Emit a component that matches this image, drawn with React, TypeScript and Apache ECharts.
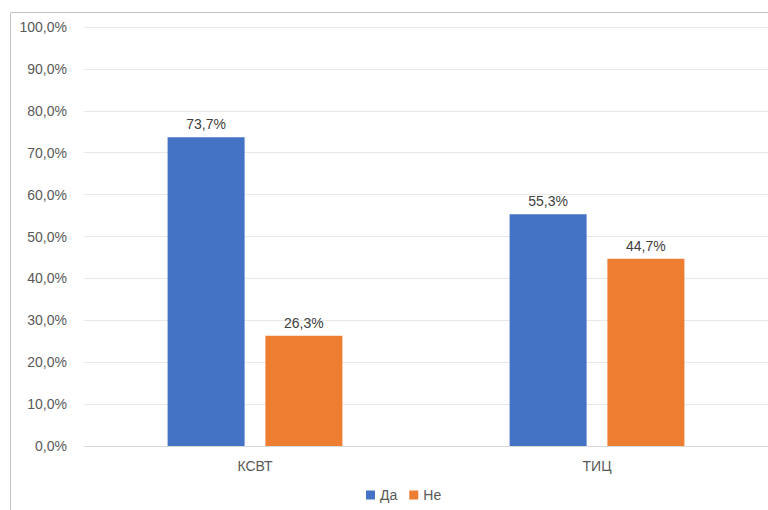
import React, { useEffect, useRef } from "react";
import * as echarts from "echarts";

const categories = ["КСВТ", "ТИЦ"];
const yesValues = [73.7, 55.3];
const noValues = [26.3, 44.7];
const seriesNames = ["Да", "Не"];

const fmt = (v: number) => v.toFixed(1).replace(".", ",") + "%";

export default function App() {
  const ref = useRef<HTMLDivElement>(null);

  useEffect(() => {
    if (!ref.current) return;
    const chart = echarts.init(ref.current, null, { renderer: "svg" });
    const font = "'Liberation Sans', Arial, sans-serif";
    const textColor = "#595959";
    chart.setOption({
      animation: false,
      backgroundColor: "#ffffff",
      textStyle: { fontFamily: font },
      graphic: [
        {
          type: "rect",
          shape: { x: 10.5, y: 12.5, width: 800, height: 600 },
          style: { fill: "none", stroke: "#c4c4c4", lineWidth: 1 },
          silent: true,
        },
      ],
      grid: { left: 84, right: -3, top: 27, bottom: 64, containLabel: false },
      legend: {
        bottom: 3,
        left: 361,
        itemWidth: 9,
        itemHeight: 9,
        itemGap: 12,
        icon: "rect",
        textStyle: { color: textColor, fontSize: 14, fontFamily: font },
        data: seriesNames,
      },
      xAxis: {
        type: "category",
        data: categories,
        axisLine: { lineStyle: { color: "#d9d9d9" } },
        axisTick: { show: false },
        axisLabel: { color: textColor, fontSize: 14, margin: 13, fontFamily: font },
      },
      yAxis: {
        type: "value",
        min: 0,
        max: 100,
        interval: 10,
        axisLine: { show: false },
        axisTick: { show: false },
        splitLine: { lineStyle: { color: "#e8e8e8" } },
        axisLabel: {
          color: textColor,
          fontSize: 14,
          margin: 17,
          fontFamily: font,
          formatter: (v: number) => fmt(v),
        },
      },
      series: [
        {
          name: seriesNames[0],
          type: "bar",
          data: yesValues,
          barWidth: 77,
          barGap: "27%",
          itemStyle: { color: "#4472c4" },
          label: {
            show: true,
            position: "top",
            distance: 6,
            color: "#404040",
            fontSize: 14,
            fontFamily: font,
            formatter: (p: any) => fmt(p.value),
          },
        },
        {
          name: seriesNames[1],
          type: "bar",
          data: noValues,
          barWidth: 77,
          itemStyle: { color: "#ed7d31" },
          label: {
            show: true,
            position: "top",
            distance: 6,
            color: "#404040",
            fontSize: 14,
            fontFamily: font,
            formatter: (p: any) => fmt(p.value),
          },
        },
      ],
    });
    return () => chart.dispose();
  }, []);

  return (
    <div
      ref={ref}
      style={{ position: "absolute", left: 0, top: 0, width: 768, height: 510 }}
    />
  );
}
